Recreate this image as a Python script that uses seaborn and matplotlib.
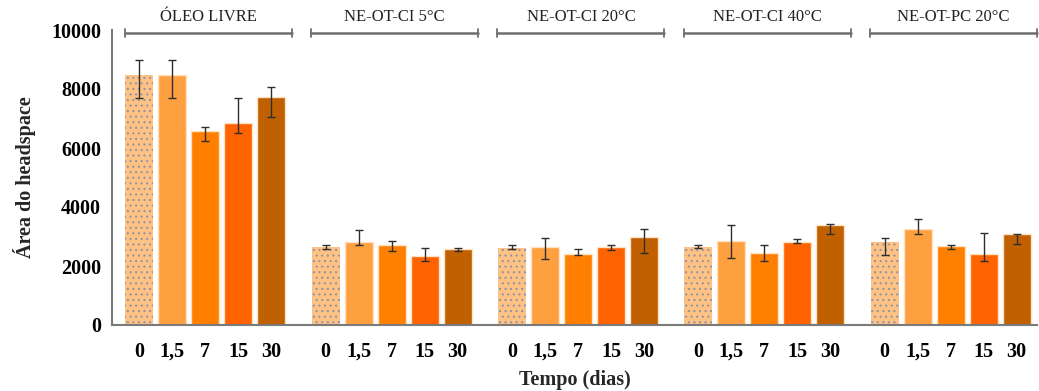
import matplotlib
matplotlib.use("Agg")
import matplotlib.pyplot as plt
import seaborn as sns
import pandas as pd
import numpy as np

# ---- data ----
groups = ["ÓLEO LIVRE", "NE-OT-CI 5°C", "NE-OT-CI 20°C", "NE-OT-CI 40°C", "NE-OT-PC 20°C"]
times = ["0", "1,5", "7", "15", "30"]
mean_oleo = [8485, 8485, 6586, 6858, 7718]
mean_ci5 = [2634, 2802, 2701, 2328, 2565]
mean_ci20 = [2610, 2634, 2418, 2655, 2994]
mean_ci40 = [2634, 2859, 2452, 2802, 3378]
mean_pc20 = [2802, 3266, 2678, 2395, 3073]
low_oleo = [7705, 7705, 6226, 6519, 7051]
high_oleo = [8983, 8983, 6712, 7705, 8056]
low_ci5 = [2588, 2701, 2508, 2158, 2497]
high_ci5 = [2722, 3220, 2847, 2621, 2621]
low_ci20 = [2588, 2226, 2373, 2531, 2452]
high_ci20 = [2712, 2960, 2588, 2701, 3266]
low_ci40 = [2599, 2260, 2181, 2768, 3073]
high_ci40 = [2722, 3390, 2722, 2927, 3435]
low_pc20 = [2373, 3085, 2588, 2169, 2757]
high_pc20 = [2949, 3593, 2701, 3119, 3096]

means = [mean_oleo, mean_ci5, mean_ci20, mean_ci40, mean_pc20]
lows = [low_oleo, low_ci5, low_ci20, low_ci40, low_pc20]
highs = [high_oleo, high_ci5, high_ci20, high_ci40, high_pc20]

colors = ["#FFC285", "#FFA040", "#FF8000", "#FF6200", "#C06000"]

GROUP_STEP = 5.65
rows = []
for g, grp in enumerate(groups):
    for i, t in enumerate(times):
        rows.append(dict(group=grp, time=t, pos=g * GROUP_STEP + i,
                         mean=means[g][i], low=lows[g][i], high=highs[g][i]))
df = pd.DataFrame(rows)

sns.set_style("white")
plt.rcParams["font.family"] = ["Liberation Serif", "DejaVu Serif"]
plt.rcParams["hatch.linewidth"] = 0.8

fig = plt.figure(figsize=(10.39, 3.91), dpi=100)
ax = fig.add_axes([112 / 1039, 1 - 325 / 391, (1037 - 112) / 1039, (325 - 30) / 391])

sns.barplot(data=df, x="pos", y="mean", hue="time", hue_order=times,
            palette=colors, native_scale=True, dodge=False, width=0.85,
            errorbar=None, legend=False, ax=ax, saturation=1)

for ci, cont in enumerate(ax.containers):
    for bar in cont:
        if ci == 0:
            bar.set_hatch("...")
            bar.set_edgecolor("#9494a0")
            bar.set_linewidth(0)
        else:
            bar.set_edgecolor("#FFE2C4")
            bar.set_linewidth(1.0)

yerr = np.vstack([df["mean"] - df["low"], df["high"] - df["mean"]])
ax.errorbar(df["pos"], df["mean"], yerr=yerr, fmt="none", ecolor="#2e2e2e",
            elinewidth=1.0, capsize=3.2, capthick=1.0, zorder=5)

ax.set_ylim(0, 10000)
ax.set_xlim(-0.83, 4 * GROUP_STEP + 4 + 0.62)
ax.set_yticks([0, 2000, 4000, 6000, 8000, 10000])
ax.set_yticklabels(["0", "2000", "4000", "6000", "8000", "10000"])
ax.set_xticks(df["pos"])
ax.set_xticklabels(df["time"])

for lab in ax.get_xticklabels() + ax.get_yticklabels():
    lab.set_fontweight("bold")
    lab.set_fontsize(14.5)
    lab.set_color("black")

sns.despine(ax=ax)
for s in ["left", "bottom"]:
    ax.spines[s].set_color("#7a7a7a")
    ax.spines[s].set_linewidth(1.5)
ax.tick_params(axis="both", direction="out", length=5, width=1.3, color="#7a7a7a")
ax.tick_params(axis="x", pad=7)
ax.tick_params(axis="y", pad=3)

ax.set_ylabel("Área do headspace", fontsize=14.5, fontweight="bold", labelpad=11)
ax.set_xlabel("Tempo (dias)", fontsize=14.5, fontweight="bold", labelpad=6)

# group brackets
for g, grp in enumerate(groups):
    x0 = g * GROUP_STEP - 0.44
    x1 = g * GROUP_STEP + 4.62
    yb = 9890
    ax.plot([x0, x1], [yb, yb], color="#6e6e6e", lw=1.8, clip_on=False, zorder=6)
    for xe in (x0, x1):
        ax.plot([xe, xe], [yb - 130, yb + 130], color="#6e6e6e", lw=1.3,
                clip_on=False, zorder=6)
    ax.annotate(grp, xy=((x0 + x1) / 2, yb), xytext=(0, 6), textcoords="offset points",
                ha="center", va="bottom", fontsize=12, color="#222222",
                annotation_clip=False)

fig.savefig("out.png", dpi=100)
